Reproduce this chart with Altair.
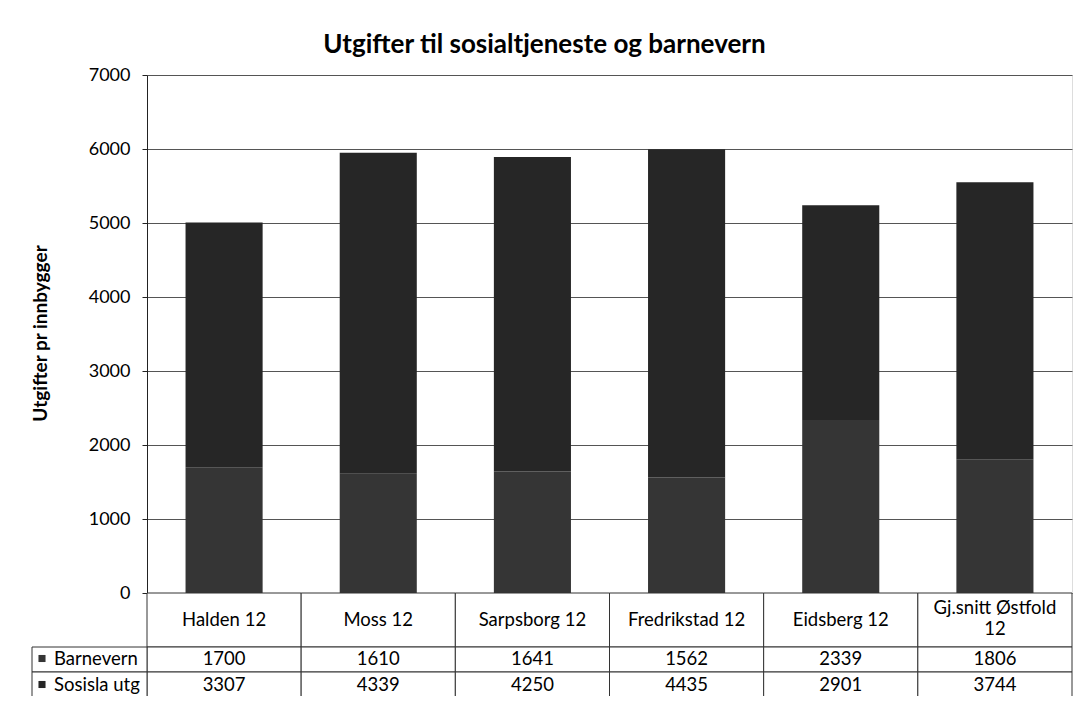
import altair as alt
import pandas as pd

categories = ["Halden 12", "Moss 12", "Sarpsborg 12", "Fredrikstad 12", "Eidsberg 12", "Gj.snitt Østfold 12"]
cat_labels = ["Halden 12", "Moss 12", "Sarpsborg 12", "Fredrikstad 12", "Eidsberg 12", "Gj.snitt Østfold\n12"]
series = ["Barnevern", "Sosisla utg"]
barnevern = [1700, 1610, 1641, 1562, 2339, 1806]
sosisla = [3307, 4339, 4250, 4435, 2901, 3744]
colors = ["#353535", "#262626"]

FONT = "Lato"
TS = 18.5

rows = []
for i, c in enumerate(categories):
    rows.append({"kategori": c, "serie": series[0], "idx": 0, "verdi": barnevern[i]})
    rows.append({"kategori": c, "serie": series[1], "idx": 1, "verdi": sosisla[i]})
df = pd.DataFrame(rows)
cat_df = pd.DataFrame({"kategori": categories, "etikett": cat_labels,
                       "flerlinje": ["\n" in l for l in cat_labels]})
ser_df = pd.DataFrame({"serie": series, "idx": [0, 1]})

x_enc = alt.X("kategori:N", sort=categories,
              scale=alt.Scale(domain=categories, paddingInner=0, paddingOuter=0),
              axis=None)

bars = alt.Chart(df).mark_bar(width={"band": 0.5}).encode(
    x=x_enc,
    y=alt.Y("verdi:Q", stack="zero",
            scale=alt.Scale(domain=[0, 7000], nice=False),
            axis=alt.Axis(values=list(range(0, 7001, 1000)), format="d", grid=True,
                          gridColor="#555555", gridWidth=1,
                          domainColor="#222222", tickColor="#222222", tickSize=5,
                          labelFont=FONT, labelFontSize=18, labelColor="black",
                          labelPadding=12,
                          title="Utgifter pr innbygger", titleFont=FONT,
                          titleFontSize=19, titleFontWeight="bold", titleColor="black",
                          titleX=-107, titleY=258, titleAngle=270,
                          titleAlign="center", titleBaseline="middle")),
    color=alt.Color("serie:N", scale=alt.Scale(domain=series, range=colors), legend=None),
    order=alt.Order("idx:Q"),
)

cell_style = dict(fill="white", stroke="#333333", strokeWidth=1)

cat_cells = alt.Chart(cat_df).mark_rect(**cell_style).encode(
    x=x_enc, y=alt.value(518), y2=alt.value(572))
cat_text1 = alt.Chart(cat_df).transform_filter("!datum.flerlinje").mark_text(
    font=FONT, fontSize=TS, baseline="middle", color="black").encode(
    x=x_enc, y=alt.value(545), text="etikett:N")
cat_text2 = alt.Chart(cat_df).transform_filter("datum.flerlinje").mark_text(
    lineBreak="\n", font=FONT, fontSize=TS, baseline="middle", lineHeight=21,
    color="black").encode(x=x_enc, y=alt.value(533), text="etikett:N")

layers = [bars, cat_cells, cat_text1, cat_text2]

row_tops = [572, 597]
row_bots = [597, 630]
row_mids = [583.5, 609.5]

for i, s in enumerate(series):
    top, bot, mid = row_tops[i], row_bots[i], row_mids[i]
    sub = alt.Chart(df).transform_filter(alt.datum.serie == s)
    layers.append(sub.mark_rect(**cell_style).encode(
        x=x_enc, y=alt.value(top), y2=alt.value(bot)))
    layers.append(sub.mark_text(font=FONT, fontSize=TS, baseline="middle",
                                color="black").encode(
        x=x_enc, y=alt.value(mid), text=alt.Text("verdi:Q", format="d")))
    hdr = alt.Chart(ser_df).transform_filter(alt.datum.serie == s)
    layers.append(hdr.mark_rect(**cell_style).encode(
        x=alt.value(-115), x2=alt.value(0), y=alt.value(top), y2=alt.value(bot)))
    layers.append(hdr.mark_square(size=50, opacity=1).encode(
        x=alt.value(-105), y=alt.value(mid), color=alt.value(colors[i])))
    layers.append(hdr.mark_text(font=FONT, fontSize=TS, baseline="middle", align="left",
                                color="black").encode(
        x=alt.value(-93), y=alt.value(mid), text="serie:N"))

chart = alt.layer(*layers).properties(
    width=925, height=518,
    title=alt.TitleParams("Utgifter til sosialtjeneste og barnevern", font=FONT,
                          fontSize=26, fontWeight="bold", color="black",
                          anchor="middle", offset=8, dx=-65),
    autosize="none",
    padding={"left": 139, "top": 67, "right": 6, "bottom": 103},
).configure_view(stroke=None).configure(background="white")

chart.save("out.html", embed_options={"renderer": "svg", "actions": False})
